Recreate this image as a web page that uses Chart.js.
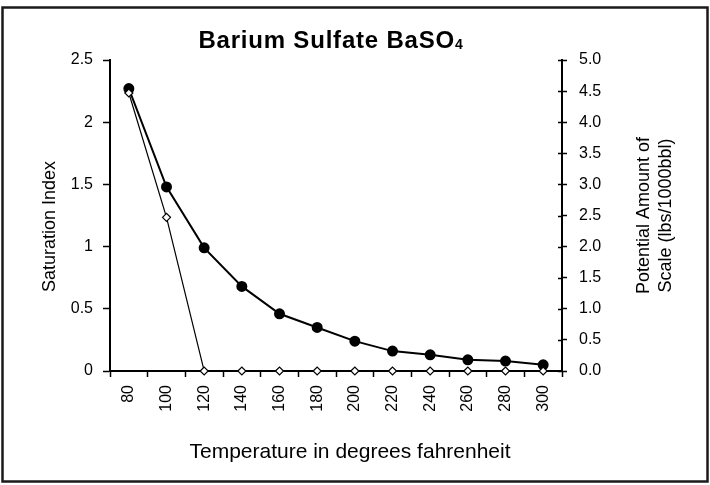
<!DOCTYPE html>
<html>
<head>
<meta charset="utf-8">
<script src="https://cdn.jsdelivr.net/npm/chart.js@4.4.1/dist/chart.umd.min.js"></script>
<style>
  html, body { margin: 0; padding: 0; background: #fff; }
  canvas { display: block; }
</style>
</head>
<body>
<canvas id="chart" width="710" height="485"></canvas>
<script>
// temperature steps (deg F)
const temperatures = ["80", "100", "120", "140", "160", "180", "200", "220", "240", "260", "280", "300"];
// saturation index, left axis
const saturationIndex = [2.27, 1.48, 0.99, 0.68, 0.46, 0.35, 0.24, 0.16, 0.13, 0.09, 0.08, 0.05];
// potential amount of scale, lbs/1000bbl, right axis
const scaleAmount = [4.47, 2.47, 0, 0, 0, 0, 0, 0, 0, 0, 0, 0];

const titleMain = "Barium Sulfate BaSO";
const titleSub = "4";
const leftTitle = "Saturation Index";
const rightTitle = ["Potential Amount of", "Scale (lbs/1000bbl)"];
const bottomTitle = "Temperature in degrees fahrenheit";

const FONT = '"Liberation Sans", Arial, Helvetica, sans-serif';
Chart.defaults.font.family = FONT;
Chart.defaults.color = "#000";

function upText(ctx, text, x, y) {
    ctx.save();
    ctx.translate(x, y);
    ctx.rotate(-Math.PI / 2);
    ctx.fillText(text, 0, 0);
    ctx.restore();
}

// frame, titles and the inner half of the right axis ticks
const extras = {
    id: "extras",
    afterDraw(chart) {
        const ctx = chart.ctx;
        const area = chart.chartArea;
        const midX = (area.left + area.right) / 2;
        const midY = (area.top + area.bottom) / 2;
        ctx.save();

        ctx.strokeStyle = "#1a1a1a";
        ctx.lineWidth = 2.5;
        ctx.strokeRect(2.5, 7.5, 705, 474);

        // chart title, formula with subscript
        ctx.fillStyle = "#000";
        ctx.textBaseline = "alphabetic";
        ctx.textAlign = "left";
        ctx.letterSpacing = "0.8px";
        ctx.font = "bold 24px " + FONT;
        const wMain = ctx.measureText(titleMain).width;
        ctx.font = "bold 14px " + FONT;
        const wSub = ctx.measureText(titleSub).width;
        const x0 = midX - 5 - (wMain + wSub) / 2;
        ctx.font = "bold 24px " + FONT;
        ctx.fillText(titleMain, x0, 48);
        ctx.font = "bold 14px " + FONT;
        ctx.fillText(titleSub, x0 + wMain, 49);
        ctx.letterSpacing = "0px";

        // axis titles
        ctx.textAlign = "center";
        ctx.textBaseline = "middle";
        ctx.font = "18px " + FONT;
        upText(ctx, leftTitle, 50, midY + 11);
        rightTitle.forEach((line, i) => upText(ctx, line, 644 + i * 22, midY));
        ctx.font = "21px " + FONT;
        ctx.fillText(bottomTitle, midX + 14, 452);

        const y1 = chart.scales.y1;
        ctx.strokeStyle = "#000";
        ctx.lineWidth = 1.5;
        y1.ticks.forEach(t => {
            const py = Math.round(y1.getPixelForValue(t.value)) + 0.5;
            ctx.beginPath();
            ctx.moveTo(y1.left - 4, py);
            ctx.lineTo(y1.left, py);
            ctx.stroke();
        });
        ctx.restore();
    }
};

new Chart(document.getElementById("chart").getContext("2d"), {
    type: "line",
    data: {
        labels: temperatures,
        datasets: [
            {
                label: "Saturation Index",
                data: saturationIndex,
                yAxisID: "y",
                borderColor: "#000",
                borderWidth: 2,
                pointRadius: 4.5,
                pointBackgroundColor: "#000",
                pointBorderColor: "#000",
                tension: 0,
                clip: false,
                order: 1,
            },
            {
                label: "Potential Amount of Scale (lbs/1000bbl)",
                data: scaleAmount,
                yAxisID: "y1",
                borderColor: "#000",
                borderWidth: 1.2,
                pointStyle: "rectRot",
                pointRadius: 4,
                pointBackgroundColor: "#fff",
                pointBorderColor: "#000",
                pointBorderWidth: 1.2,
                tension: 0,
                clip: false,
                order: 0,
            },
        ],
    },
    options: {
        responsive: false,
        animation: false,
        layout: { padding: { left: 36, right: 0, top: 60, bottom: 16 } },
        plugins: {
            legend: { display: false },
            tooltip: { enabled: false },
        },
        scales: {
            x: {
                offset: true,
                grid: {
                    offset: true,
                    drawOnChartArea: false,
                    drawTicks: true,
                    tickLength: 6,
                    tickWidth: 1.5,
                    tickColor: "#000",
                },
                border: { display: true, color: "#000", width: 2 },
                ticks: {
                    autoSkip: false,
                    minRotation: 90,
                    maxRotation: 90,
                    padding: 8,
                    font: { size: 16 },
                },
                afterFit: s => { s.height = 98; },
            },
            y: {
                position: "left",
                min: 0,
                max: 2.5,
                grid: {
                    drawOnChartArea: false,
                    tickLength: 7,
                    tickWidth: 1.5,
                    tickColor: "#000",
                },
                border: { display: true, color: "#000", width: 2 },
                ticks: {
                    stepSize: 0.5,
                    padding: 10,
                    font: { size: 16 },
                    callback: v => String(v),
                },
                afterFit: s => { s.width = 74; },
            },
            y1: {
                position: "right",
                min: 0,
                max: 5,
                grid: {
                    drawOnChartArea: false,
                    tickLength: 5,
                    tickWidth: 1.5,
                    tickColor: "#000",
                },
                border: { display: true, color: "#000", width: 2 },
                ticks: {
                    stepSize: 0.5,
                    padding: 12,
                    font: { size: 16 },
                    callback: v => Number(v).toFixed(1),
                },
                afterFit: s => { s.width = 148; },
            },
        },
    },
    plugins: [extras],
});
</script>
</body>
</html>
